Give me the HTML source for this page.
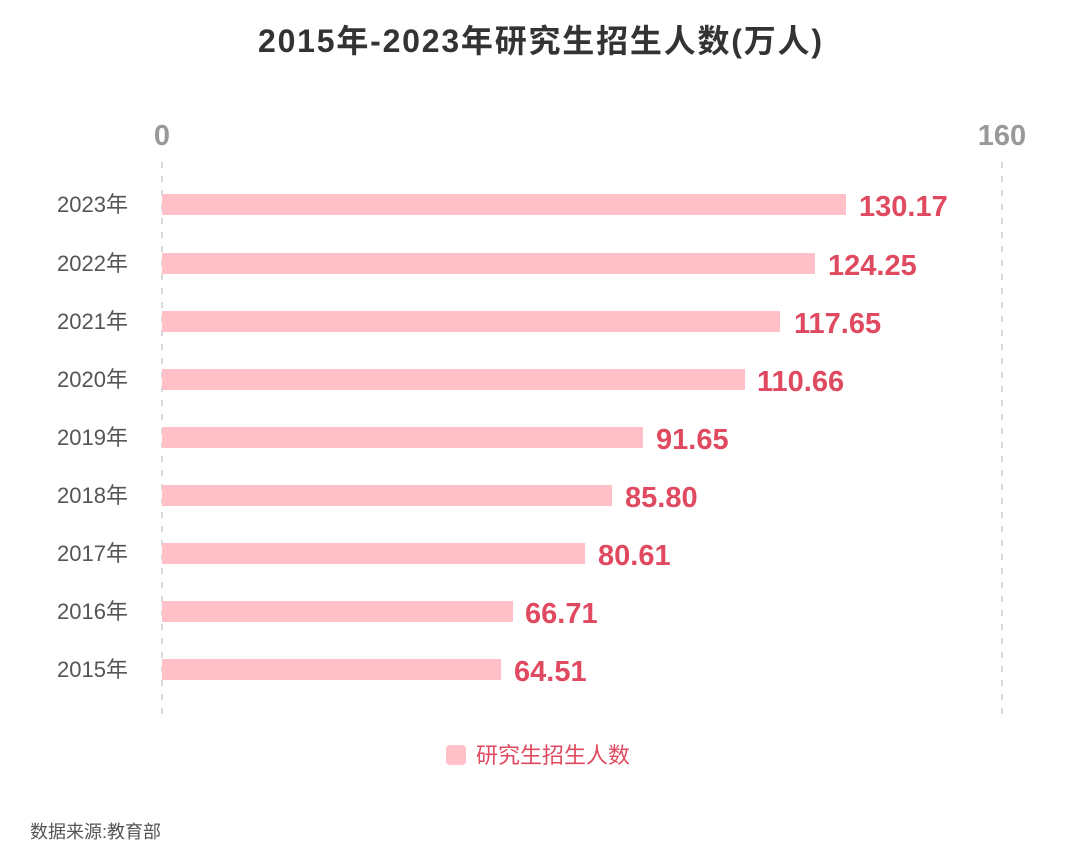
<!DOCTYPE html>
<html><head><meta charset="utf-8"><style>
body{margin:0;background:#fff;width:1080px;height:851px;overflow:hidden}
text{font-family:"Liberation Sans","Noto Sans CJK SC",sans-serif}
</style></head><body>
<svg width="1080" height="851" viewBox="0 0 1080 851" xmlns="http://www.w3.org/2000/svg">
<text x="540" y="52" text-anchor="middle" font-size="32" font-weight="bold" fill="#333" textLength="564">2015年-2023年研究生招生人数(万人)</text>
<text x="162" y="145" text-anchor="middle" font-size="29" font-weight="bold" fill="#999">0</text>
<text x="1002" y="145" text-anchor="middle" font-size="29" font-weight="bold" fill="#999">160</text>
<line x1="162" y1="162" x2="162" y2="715" stroke="#ccc" stroke-width="1.5" stroke-dasharray="6,8"/>
<line x1="1002" y1="162" x2="1002" y2="715" stroke="#ccc" stroke-width="1.5" stroke-dasharray="6,8"/>
<g font-size="22" fill="#555" text-anchor="end">
<text x="128" y="212">2023年</text><text x="128" y="271">2022年</text><text x="128" y="329">2021年</text>
<text x="128" y="387">2020年</text><text x="128" y="445">2019年</text><text x="128" y="503">2018年</text>
<text x="128" y="561">2017年</text><text x="128" y="619">2016年</text><text x="128" y="677">2015年</text>
</g>
<g fill="#ffc0c8">
<rect x="162" y="194" width="684" height="21"/>
<rect x="162" y="253" width="653" height="21"/>
<rect x="162" y="311" width="618" height="21"/>
<rect x="162" y="369" width="583" height="21"/>
<rect x="162" y="427" width="481" height="21"/>
<rect x="162" y="485" width="450" height="21"/>
<rect x="162" y="543" width="423" height="21"/>
<rect x="162" y="601" width="351" height="21"/>
<rect x="162" y="659" width="339" height="21"/>
</g>
<g font-size="29" font-weight="bold" fill="#e04a60">
<text x="859" y="216">130.17</text>
<text x="828" y="275">124.25</text>
<text x="794" y="333">117.65</text>
<text x="757" y="391">110.66</text>
<text x="656" y="449">91.65</text>
<text x="625" y="507">85.80</text>
<text x="598" y="565">80.61</text>
<text x="525" y="623">66.71</text>
<text x="514" y="681">64.51</text>
</g>
<rect x="446" y="745" width="20" height="20" rx="4" fill="#ffc0c8"/>
<text x="476" y="763" font-size="22" fill="#e04a60">研究生招生人数</text>
<text x="30" y="838" font-size="18" fill="#555">数据来源:教育部</text>
</svg>
</body></html>
